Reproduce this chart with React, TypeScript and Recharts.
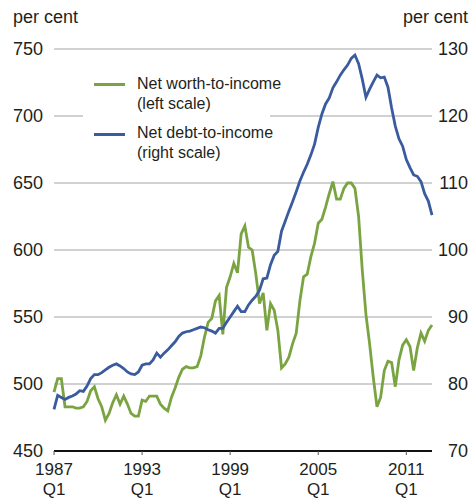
import React from "react";
import { LineChart, Line, XAxis, YAxis, CartesianGrid, Legend } from "recharts";

const startYear = 1987;
const quarterCount = 104;
const xTickIndex = [0, 24, 48, 72, 96];
const xTickYears = ["1987", "1993", "1999", "2005", "2011"];
const xTickQuarter = "Q1";
const leftTicks = [450, 500, 550, 600, 650, 700, 750];
const rightTicks = [70, 80, 90, 100, 110, 120, 130];

const netWorthToIncome = [
  494, 504, 504, 483, 483, 483, 482, 482, 483, 487,
  495, 498, 489, 483, 473, 478, 486, 492, 485, 491,
  485, 478, 476, 476, 488, 487, 491, 491, 491, 485,
  482, 480, 490, 497, 505, 511, 513, 512, 512, 513,
  521, 535, 546, 549, 562, 566, 537, 572, 580, 590,
  583, 612, 618, 602, 600, 582, 560, 568, 540, 560,
  555, 540, 512, 515, 520, 530, 538, 562, 580, 582,
  595, 605, 620, 623, 632, 642, 651, 638, 638, 646,
  650, 650, 646, 625, 585, 552, 530, 505, 483, 490,
  510, 517, 516, 498, 518, 529, 533, 528, 510, 527,
  538, 532, 540, 544,
];

const netDebtToIncome = [
  76.2, 78.3, 78, 77.7, 78, 78.2, 78.5, 79, 78.9, 79.7,
  80.8, 81.4, 81.4, 81.7, 82.1, 82.5, 82.8, 83, 82.7, 82.3,
  81.8, 81.5, 81.4, 81.8, 82.8, 83, 83, 83.6, 84.6, 84,
  84.6, 85.1, 85.7, 86.3, 87.1, 87.6, 87.8, 87.9, 88.1, 88.3,
  88.5, 88.4, 88.1, 87.9, 87.6, 88.3, 88.3, 89.2, 90, 90.8,
  91.6, 90.8, 90.8, 91.8, 92.5, 93.1, 94, 95.7, 95.8, 97.8,
  99.2, 99.8, 102.8, 104.3, 105.8, 107.2, 108.7, 110.3, 111.6, 112.8,
  114.2, 115.8, 118.3, 120.3, 121.8, 122.7, 124.2, 125.1, 126.1, 126.9,
  127.6, 128.6, 129.1, 127.8, 125.5, 122.8, 124, 125.1, 126.1, 125.7,
  125.8, 124.3, 121.2, 118.5, 116.6, 115.5, 113.5, 112.3, 111.2, 111,
  110.2, 108.4, 107.3, 105.2,
];

const GREEN = "#7aa441";
const BLUE = "#3a5b9e";
const TEXT = "#231f20";
const FONT = "'Liberation Sans', Arial, Helvetica, sans-serif";

const data = netWorthToIncome.map((nw, i) => ({
  i,
  label: `${startYear + Math.floor(i / 4)}Q${(i % 4) + 1}`,
  nw,
  nd: netDebtToIncome[i],
}));

const LeftTick = (props: any) => {
  const { x, y, payload } = props;
  return (
    <text x={x} y={y} dy="0.36em" textAnchor="end" fontSize={18} fill={TEXT} fontFamily={FONT}>
      {payload.value}
    </text>
  );
};

const RightTick = (props: any) => {
  const { x, y, payload } = props;
  return (
    <text x={x} y={y} dy="0.36em" textAnchor="end" fontSize={18} fill={TEXT} fontFamily={FONT}>
      {payload.value}
    </text>
  );
};

const BottomTick = (props: any) => {
  const { x, y, payload } = props;
  const k = xTickIndex.indexOf(payload.value);
  return (
    <g>
      <text x={x} y={y + 20} textAnchor="middle" fontSize={17} fill={TEXT} fontFamily={FONT}>
        {xTickYears[k]}
      </text>
      <text x={x} y={y + 40} textAnchor="middle" fontSize={17} fill={TEXT} fontFamily={FONT}>
        {xTickQuarter}
      </text>
    </g>
  );
};

const PerCentLeft = (props: any) => {
  const vb = props.viewBox || { x: 0, y: 49 };
  return (
    <text x={vb.x + 13} y={vb.y - 26} fontSize={18} fill={TEXT} fontFamily={FONT}>
      per cent
    </text>
  );
};

const PerCentRight = (props: any) => {
  const vb = props.viewBox || { x: 432, y: 49, width: 41 };
  return (
    <text x={vb.x + 36} y={vb.y - 26} textAnchor="end" fontSize={18} fill={TEXT} fontFamily={FONT}>
      per cent
    </text>
  );
};

const legendItems = [
  { color: GREEN, l1: "Net worth-to-income", l2: "(left scale)" },
  { color: BLUE, l1: "Net debt-to-income", l2: "(right scale)" },
];

const LegendBox = () => (
  <div style={{ position: "relative", width: 187, height: 106, background: "#fff", fontFamily: FONT }}>
    {legendItems.map((it, k) => (
      <div key={k}>
        <div
          style={{
            position: "absolute",
            left: 11,
            top: 20.5 + k * 50,
            width: 31,
            height: 3,
            background: it.color,
          }}
        />
        <div
          style={{
            position: "absolute",
            left: 54,
            top: 12.2 + k * 49,
            fontSize: 16,
            lineHeight: "20px",
            color: TEXT,
            whiteSpace: "nowrap",
          }}
        >
          <div>{it.l1}</div>
          <div>{it.l2}</div>
        </div>
      </div>
    ))}
  </div>
);

export default function App() {
  return (
    <div style={{ position: "absolute", left: 0, top: 0, width: 473, height: 499, background: "#fff" }}>
      <LineChart width={473} height={499} data={data} margin={{ top: 49, right: 0, left: 0, bottom: 0 }}>
        <CartesianGrid yAxisId="L" vertical={false} stroke="#a3a3a3" strokeWidth={1} />
        <XAxis
          dataKey="i"
          type="number"
          domain={[0, quarterCount - 1]}
          ticks={xTickIndex}
          height={48}
          axisLine={{ stroke: "#111", strokeWidth: 2.2 }}
          tickLine={{ stroke: "#555", strokeWidth: 1 }}
          tickSize={4}
          tickMargin={0}
          tick={<BottomTick />}
          interval={0}
        />
        <YAxis
          yAxisId="L"
          orientation="left"
          width={54}
          domain={[450, 750]}
          ticks={leftTicks}
          axisLine={false}
          tickLine={false}
          tickSize={0}
          tickMargin={11}
          tick={<LeftTick />}
          interval={0}
          label={PerCentLeft}
        />
        <YAxis
          yAxisId="R"
          orientation="right"
          width={41}
          domain={[70, 130]}
          ticks={rightTicks}
          axisLine={false}
          tickLine={false}
          tickSize={0}
          tickMargin={36}
          tick={<RightTick />}
          interval={0}
          label={PerCentRight}
        />
        <Legend
          layout="vertical"
          align="center"
          verticalAlign="middle"
          content={<LegendBox />}
          wrapperStyle={{ left: 83, top: 62, width: 187, height: 106 }}
        />
        <Line
          yAxisId="L"
          type="linear"
          dataKey="nw"
          name="Net worth-to-income (left scale)"
          stroke={GREEN}
          strokeWidth={2.8}
          dot={false}
          isAnimationActive={false}
        />
        <Line
          yAxisId="R"
          type="linear"
          dataKey="nd"
          name="Net debt-to-income (right scale)"
          stroke={BLUE}
          strokeWidth={2.8}
          dot={false}
          isAnimationActive={false}
        />
      </LineChart>
    </div>
  );
}
